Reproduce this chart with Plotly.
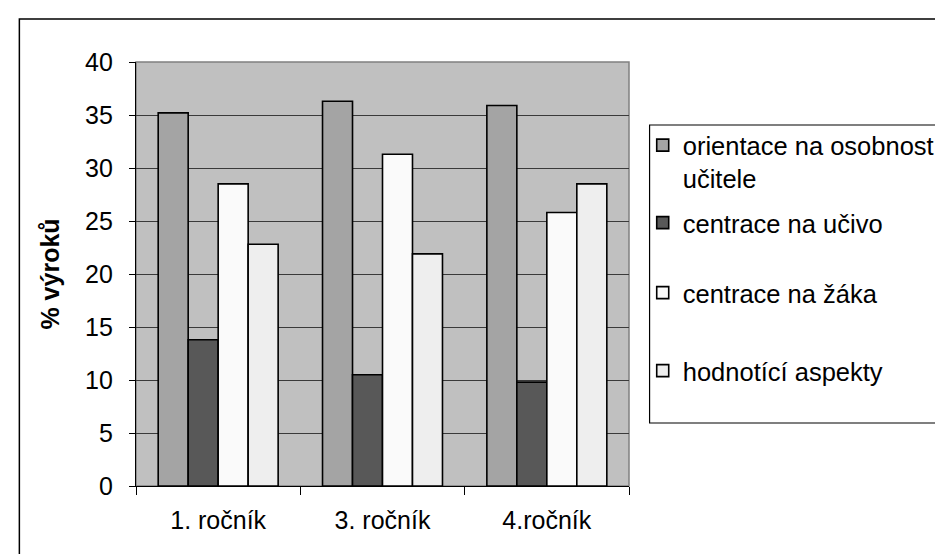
import plotly.graph_objects as go

categories = ["1. ročník", "3. ročník", "4.ročník"]
series_names = ["orientace na osobnost<br>učitele", "centrace na učivo",
                "centrace na žáka", "hodnotící aspekty"]
orientace = [35.2, 36.3, 35.9]
ucivo = [13.8, 10.5, 9.8]
zaka = [28.5, 31.3, 25.8]
hodnotici = [22.8, 21.9, 28.5]
series_values = [orientace, ucivo, zaka, hodnotici]
series_colors = ["#A4A4A4", "#585858", "#FAFAFA", "#EEEEEE"]
y_ticks = [0, 5, 10, 15, 20, 25, 30, 35, 40]

FONT = "Liberation Sans, Arial, sans-serif"

W, H = 943, 554
L, R, T, B = 128, 312, 54, 76
pw, ph = W - L - R, H - T - B

def px(x):
    return (x - L) / pw

def py(y):
    return (H - B - y) / ph

legend_ids = ["legend", "legend2", "legend3", "legend4"]
legend_centers = [154, 215, 285, 363]

fig = go.Figure()
for name, vals, col, lid in zip(series_names, series_values, series_colors, legend_ids):
    fig.add_trace(go.Bar(
        x=categories, y=vals, name=name,
        marker=dict(color=col, line=dict(color="#000000", width=1.6)),
        legend=lid,
    ))

legend_layouts = {}
for lid, cy in zip(legend_ids, legend_centers):
    legend_layouts[lid] = dict(
        x=px(645), y=py(cy), xanchor="left", yanchor="middle",
        bgcolor="rgba(0,0,0,0)", borderwidth=0,
        font=dict(family=FONT, size=25.5, color="#000000"),
        valign="top",
        itemclick=False, itemdoubleclick=False,
    )

fig.update_layout(
    width=W, height=H,
    margin=dict(l=L, r=R, t=T, b=B),
    paper_bgcolor="white",
    plot_bgcolor="#C0C0C0",
    barmode="group",
    bargap=0.27,
    bargroupgap=0,
    font=dict(family=FONT, size=25, color="#000000"),
    showlegend=True,
    shapes=[
        # outer chart border
        dict(type="rect", xref="paper", yref="paper",
             x0=px(9), y0=py(575), x1=px(960), y1=py(11),
             line=dict(color="#000000", width=1.5), layer="below"),
        # plot area border
        dict(type="rect", xref="paper", yref="paper",
             x0=0, y0=0, x1=1, y1=1,
             line=dict(color="#808080", width=1.5), layer="below"),
        # legend box
        dict(type="rect", xref="paper", yref="paper",
             x0=px(652), y0=py(415), x1=px(970), y1=py(117),
             line=dict(color="#000000", width=1.2), fillcolor="white", layer="below"),
    ],
    **legend_layouts,
)

fig.update_xaxes(
    showline=True, linecolor="#000000", linewidth=1.2,
    ticks="outside", tickson="boundaries", ticklen=8, tickcolor="#000000",
    tickfont=dict(family=FONT, size=25), ticklabelstandoff=12,
    showgrid=False, mirror=False,
)
fig.update_yaxes(
    range=[0, 40], tickvals=y_ticks,
    showline=True, linecolor="#000000", linewidth=1.2,
    ticks="outside", ticklen=6, tickcolor="#000000",
    tickfont=dict(family=FONT, size=25), ticklabelstandoff=11,
    showgrid=True, gridcolor="#3A3A3A", gridwidth=1,
    zeroline=False,
    title=dict(text="<b>% výroků</b>", font=dict(family=FONT, size=25), standoff=18),
)

fig.write_html("out.html")
